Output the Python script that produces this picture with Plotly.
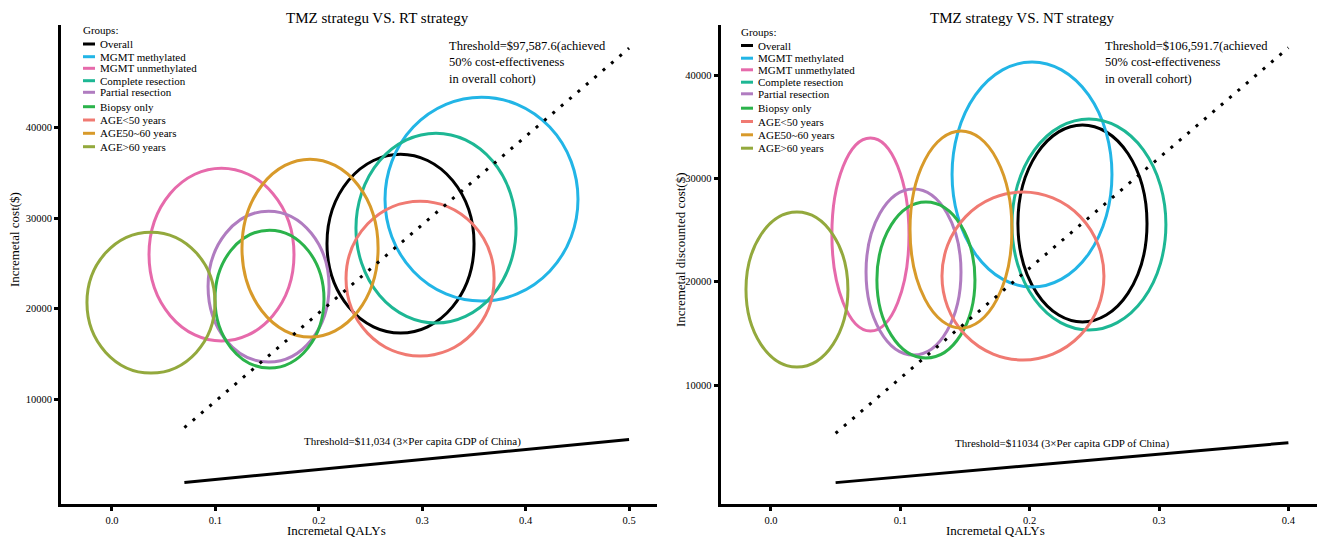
import plotly.graph_objects as go

# ---------------- data ----------------
groups = ["Overall", "MGMT methylated", "MGMT unmethylated", "Complete resection",
          "Partial resection", "Biopsy only", "AGE<50 years", "AGE50~60 years", "AGE>60 years"]
colors = ["#000000", "#22B5E6", "#E66AAB", "#1DB794", "#B07CC0",
          "#2BB34B", "#F07A72", "#D89A2A", "#93A93D"]

# TMZ vs RT : ellipse centres and half-widths
rt_qaly_center = [0.279, 0.3573, 0.1059, 0.3133, 0.1514, 0.1523, 0.2979, 0.1915, 0.0377]
rt_qaly_half = [0.0711, 0.0933, 0.0701, 0.0774, 0.0585, 0.0527, 0.0716, 0.0658, 0.0619]
rt_cost_center = [27182, 32099, 25967, 28895, 22431, 21050, 23315, 26685, 20663]
rt_cost_half = [9890, 11271, 9558, 10497, 8343, 7624, 8564, 9834, 7790]

# TMZ vs NT
nt_qaly_center = [0.2408, 0.2018, 0.0769, 0.2458, 0.1102, 0.1198, 0.1948, 0.1469, 0.0201]
nt_qaly_half = [0.0499, 0.0618, 0.0298, 0.0595, 0.0367, 0.0379, 0.0626, 0.0394, 0.0394]
nt_cost_center = [25634, 30371, 24565, 25533, 20936, 20162, 20549, 25049, 19242]
nt_cost_half = [9532, 10887, 9339, 10210, 8033, 7549, 8129, 9532, 7500]

wtp_rt = 97587.6
wtp_nt = 106591.7
gdp_threshold = 11034
rt_line_qaly = [0.07, 0.5]
nt_line_qaly = [0.05, 0.4]

rt_xticks = [0.0, 0.1, 0.2, 0.3, 0.4, 0.5]
nt_xticks = [0.0, 0.1, 0.2, 0.3, 0.4]
y_ticks = [10000, 20000, 30000, 40000]

titles = ["TMZ strategu VS. RT strategy", "TMZ strategy VS. NT strategy"]
wtp_texts = ["Threshold=$97,587.6(achieved<br>50% cost-effectiveness<br>in overall cohort)",
             "Threshold=$106,591.7(achieved<br>50% cost-effectiveness<br>in overall cohort)"]
gdp_texts = ["Threshold=$11,034 (3×Per capita GDP of China)",
             "Threshold=$11034 (3×Per capita GDP of China)"]
x_title = "Incremetal QALYs"
y_titles = ["Incremetal cost($)", "Incremetal discounted cost($)"]

# ---------------- layout helpers ----------------
W, H = 1317, 539
ML, MR, MT, MB = 61, 0, 25, 35
PW, PH = W - ML - MR, H - MT - MB
FONT = "Liberation Serif"


def px(x):
    return (x - ML) / PW


def py(y):
    return (H - MB - y) / PH


fig = go.Figure()
shapes = []
annotations = []

panels = [
    dict(xa="x", ya="y", qc=rt_qaly_center, qh=rt_qaly_half, cc=rt_cost_center, ch=rt_cost_half,
         wtp=wtp_rt, lq=rt_line_qaly),
    dict(xa="x2", ya="y2", qc=nt_qaly_center, qh=nt_qaly_half, cc=nt_cost_center, ch=nt_cost_half,
         wtp=wtp_nt, lq=nt_line_qaly),
]

for p in panels:
    for i, g in enumerate(groups):
        shapes.append(dict(type="circle", xref=p["xa"], yref=p["ya"],
                           x0=p["qc"][i] - p["qh"][i], x1=p["qc"][i] + p["qh"][i],
                           y0=p["cc"][i] - p["ch"][i], y1=p["cc"][i] + p["ch"][i],
                           line=dict(color=colors[i], width=3), layer="below"))
    fig.add_trace(go.Scatter(x=p["lq"], y=[p["wtp"] * q for q in p["lq"]], mode="lines",
                             xaxis=p["xa"], yaxis=p["ya"], showlegend=False,
                             line=dict(color="black", width=3, dash="3px,8px")))
    fig.add_trace(go.Scatter(x=p["lq"], y=[gdp_threshold * q for q in p["lq"]], mode="lines",
                             xaxis=p["xa"], yaxis=p["ya"], showlegend=False,
                             line=dict(color="black", width=3)))

# manual legends
legend_offsets = [0, 12.7, 24.3, 36.7, 48.3, 62.7, 76, 89.3, 102.7]
legend_specs = [dict(x=83, title_y=30, item_y=44), dict(x=741, title_y=31.5, item_y=45.5)]
for spec in legend_specs:
    annotations.append(dict(x=px(spec["x"] - 2), y=py(spec["title_y"]), xref="paper", yref="paper",
                            text="Groups:", showarrow=False, xanchor="left", yanchor="middle",
                            font=dict(family=FONT, size=11, color="black")))
    for i, g in enumerate(groups):
        yy = spec["item_y"] + legend_offsets[i]
        shapes.append(dict(type="line", xref="paper", yref="paper",
                           x0=px(spec["x"]), x1=px(spec["x"] + 12), y0=py(yy), y1=py(yy),
                           line=dict(color=colors[i], width=3)))
        annotations.append(dict(x=px(spec["x"] + 15), y=py(yy), xref="paper", yref="paper",
                                text=g, showarrow=False, xanchor="left", yanchor="middle",
                                font=dict(family=FONT, size=11, color="black")))

# titles and texts
for tx, cx in zip(titles, [377, 1022]):
    annotations.append(dict(x=px(cx), y=py(18), xref="paper", yref="paper", text=tx,
                            showarrow=False, xanchor="center", yanchor="middle",
                            font=dict(family=FONT, size=15, color="black")))
for tx, lx in zip(wtp_texts, [447, 1103]):
    annotations.append(dict(x=px(lx), y=py(37), xref="paper", yref="paper", text=tx, align="left",
                            showarrow=False, xanchor="left", yanchor="top",
                            font=dict(family=FONT, size=12.5, color="black")))
for tx, cx, cy in zip(gdp_texts, [412, 1062], [441, 443]):
    annotations.append(dict(x=px(cx), y=py(cy), xref="paper", yref="paper", text=tx,
                            showarrow=False, xanchor="center", yanchor="middle",
                            font=dict(family=FONT, size=11, color="black")))
for cx in [336, 995]:
    annotations.append(dict(x=px(cx), y=py(530), xref="paper", yref="paper", text=x_title,
                            showarrow=False, xanchor="center", yanchor="middle",
                            font=dict(family=FONT, size=13, color="black")))
for tx, cx, cy in zip(y_titles, [15, 680], [240, 250]):
    annotations.append(dict(x=px(cx), y=py(cy), xref="paper", yref="paper", text=tx, textangle=-90,
                            showarrow=False, xanchor="center", yanchor="middle",
                            font=dict(family=FONT, size=13, color="black")))

axis_common = dict(showline=True, linecolor="black", linewidth=3, ticks="outside", ticklen=4,
                   tickwidth=3, tickcolor="black", showgrid=False, zeroline=False,
                   tickfont=dict(family=FONT, size=10.5, color="black"))

fig.update_layout(
    width=W, height=H,
    margin=dict(l=ML, r=MR, t=MT, b=MB),
    paper_bgcolor="white", plot_bgcolor="white",
    showlegend=False,
    shapes=shapes, annotations=annotations,
    xaxis=dict(domain=[0, px(657)], range=[-0.0493, 0.527], tickvals=rt_xticks,
               tickformat=".1f", anchor="y", **axis_common),
    yaxis=dict(domain=[0, 1], range=[-1611, 51359], tickvals=y_ticks, tickformat="d",
               anchor="x", **axis_common),
    xaxis2=dict(domain=[px(720.5), 1], range=[-0.039, 0.4221], tickvals=nt_xticks,
                tickformat=".1f", anchor="y2", **axis_common),
    yaxis2=dict(domain=[0, 1], range=[-1516, 44839], tickvals=y_ticks, tickformat="d",
                anchor="x2", **axis_common),
)

fig.write_html("out.html")
